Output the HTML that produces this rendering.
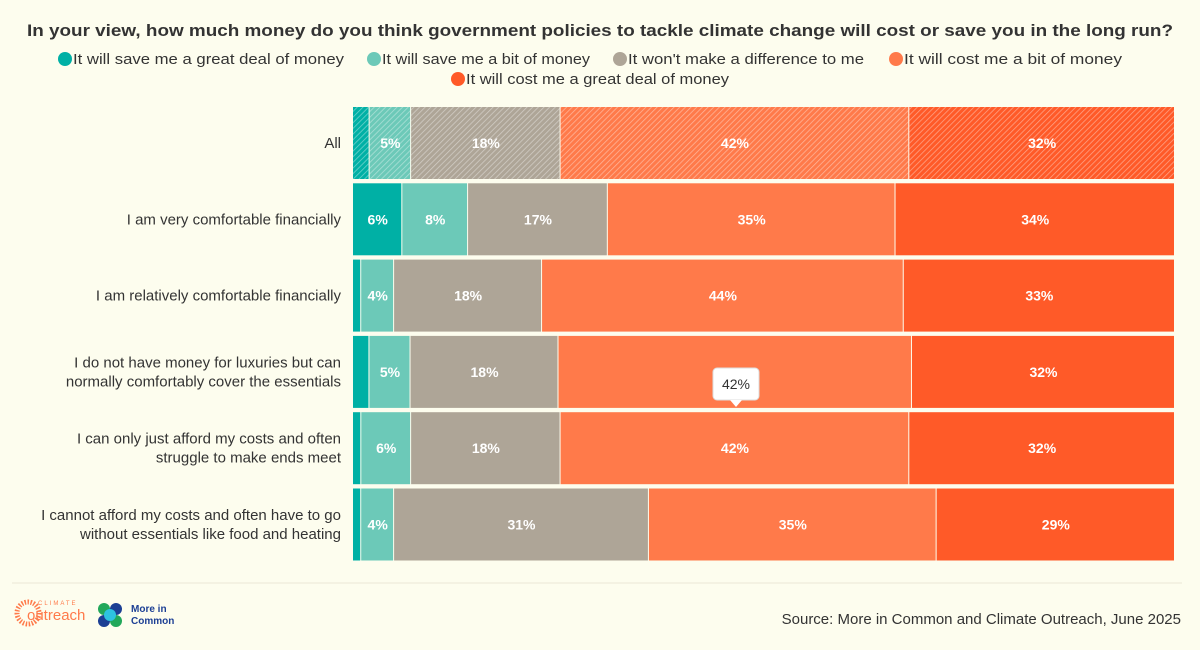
<!DOCTYPE html>
<html><head><meta charset="utf-8"><style>
body{margin:0;background:#fdfdee;}
svg{display:block;font-family:"Liberation Sans",sans-serif;}
</style></head><body>
<svg id="chart" width="1200" height="650" viewBox="0 0 1200 650">
<defs>
<pattern id="hatch" width="4" height="4" patternUnits="userSpaceOnUse" patternTransform="rotate(45)">
<rect width="4" height="4" fill="rgba(255,255,255,0)"/>
<line x1="0" y1="0" x2="0" y2="4" stroke="rgba(255,255,255,0.45)" stroke-width="1.5"/>
</pattern>
</defs>
<rect width="1200" height="650" fill="#fdfdee"/>
<text x="600" y="36" text-anchor="middle" font-size="17" font-weight="bold" fill="#333" textLength="1146" lengthAdjust="spacingAndGlyphs">In your view, how much money do you think government policies to tackle climate change will cost or save you in the long run?</text>
<g id="legend"></g>
<g id="rows"></g>
<g id="labels"></g>
<line x1="12" y1="583" x2="1182" y2="583" stroke="#ece6d6" stroke-width="1"/>
<g>
<circle cx="28" cy="613" r="11" fill="none" stroke="#ff7a4a" stroke-width="5" stroke-dasharray="1.5 1.5"/>
<text x="38" y="605" font-size="6" fill="#ff7a4a" letter-spacing="2">CLIMATE</text>
<text x="27" y="620" font-size="15" fill="#ff7a4a">outreach</text>
</g>
<g>
<circle cx="104" cy="609" r="6" fill="#22a85a"/><circle cx="116" cy="609" r="6" fill="#1c3f94"/>
<circle cx="104" cy="621" r="6" fill="#1c3f94"/><circle cx="116" cy="621" r="6" fill="#22a85a"/>
<circle cx="110" cy="615" r="6" fill="#2ec3e0"/>
<text x="131" y="612" font-size="10" font-weight="bold" fill="#1c3f94">More in</text>
<text x="131" y="624" font-size="10" font-weight="bold" fill="#1c3f94">Common</text>
</g>
<text x="1181" y="624" text-anchor="end" font-size="15" fill="#333">Source: More in Common and Climate Outreach, June 2025</text>
<g>
<rect x="713" y="368" width="46" height="32" rx="4" fill="#fff" stroke="#ddd"/>
<path d="M730 400 L736 407 L742 400 Z" fill="#fff"/>
<text x="736" y="389" text-anchor="middle" font-size="14" fill="#333">42%</text>
</g>
</svg>
<script>
const categories = [
 ["All"],
 ["I am very comfortable financially"],
 ["I am relatively comfortable financially"],
 ["I do not have money for luxuries but can","normally comfortably cover the essentials"],
 ["I can only just afford my costs and often","struggle to make ends meet"],
 ["I cannot afford my costs and often have to go","without essentials like food and heating"]
];
const seriesNames = ["It will save me a great deal of money","It will save me a bit of money","It won't make a difference to me","It will cost me a bit of money","It will cost me a great deal of money"];
const saveGreat = [2,6,1,2,1,1];
const saveBit = [5,8,4,5,6,4];
const noDiff = [18,17,18,18,18,31];
const costBit = [42,35,44,43,42,35];
const costGreat = [32,34,33,32,32,29];
const colors = ["#00b0a5","#6cc9b8","#aea597","#ff7a4a","#ff5a28"];
const series = [saveGreat, saveBit, noDiff, costBit, costGreat];

const NS="http://www.w3.org/2000/svg";
const svg=document.getElementById('chart');
const rowsG=document.getElementById('rows');
const legendG=document.getElementById('legend');
const x0=353, x1=1175, rowTop=107, rowStep=76.3, rowH=72;
function yPos(i){return rowTop+i*rowStep;}
function mk(tag,attrs){const e=document.createElementNS(NS,tag);for(const k in attrs)e.setAttribute(k,attrs[k]);return e;}

// legend
const legPos=[[59,58,271],[368,58,208],[614,58,236],[890,58,218],[452,78,263]];
seriesNames.forEach((n,i)=>{
 const g=mk('g',{});
 
 
 const [lx,ly,tw]=legPos[i];
 g.appendChild(mk('circle',{cx:lx+6,cy:ly+1,r:7,fill:colors[i]}));
 const t=mk('text',{x:lx+14,y:ly+6,'font-size':15,fill:'#333',textLength:tw,lengthAdjust:'spacingAndGlyphs'});
 t.textContent=n;g.appendChild(t);legendG.appendChild(g);
});

categories.forEach((cat,r)=>{
 const total=series.reduce((s,a)=>s+a[r],0);
 const scale=v=>v/total*(x1-x0);
 const y=yPos(r);
 let cx=x0;
 const lab=mk('text',{x:341,'text-anchor':'end','font-size':15,fill:'#333'});
 
 
 cat.forEach((line,li)=>{const ts=mk('tspan',{x:341,y:y+rowH/2+5+(li-(cat.length-1)/2)*19});ts.textContent=line;lab.appendChild(ts);});
 svg.appendChild(lab);
 series.forEach((s,si)=>{
  const w=scale(s[r]);
  const rect=mk('rect',{x:cx,y:y,width:Math.max(w-1,0),height:rowH,fill:colors[si]});
  
  
  rowsG.appendChild(rect);
  if(r===0){const h=mk('rect',{x:cx,y:y,width:Math.max(w-1,0),height:rowH,fill:'url(#hatch)'});
   
   
   rowsG.appendChild(h);}
  if(s[r]>=4){
   const t=mk('text',{x:cx+w/2,y:y+rowH/2+5,'text-anchor':'middle','font-size':14,'font-weight':'bold',fill:'#fff'});
   
   
   t.textContent=s[r]+'%';rowsG.appendChild(t);
  }
  cx+=w;
 });
});
</script>
</body></html>
